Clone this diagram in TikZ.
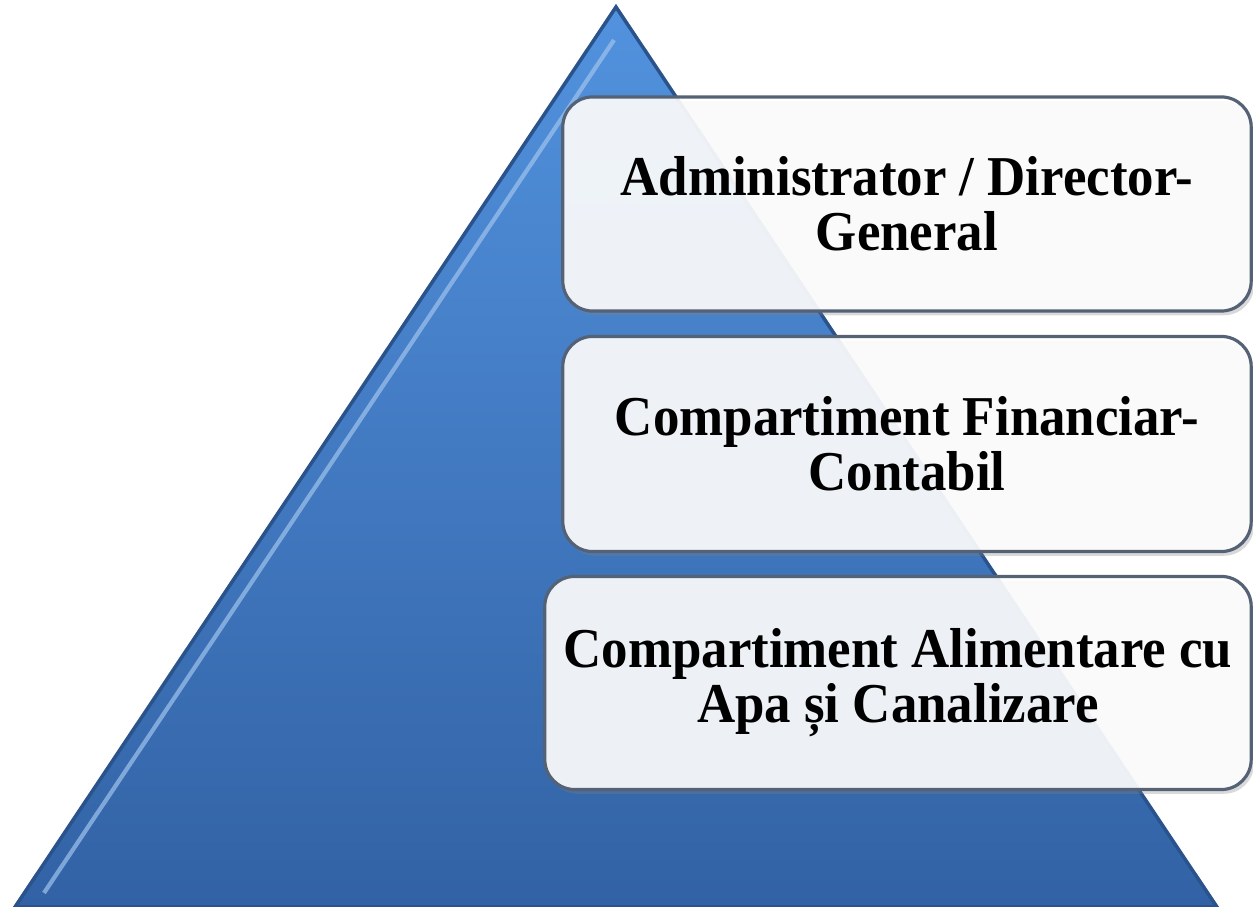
\documentclass[tikz,border=0pt]{standalone}
\usepackage{fontspec}
\setmainfont[FakeStretch=0.94]{Liberation Serif}
\usetikzlibrary{positioning,shadows}
\definecolor{trilight}{RGB}{82,146,222}
\definecolor{tridark}{RGB}{50,98,165}
\definecolor{boxline}{RGB}{85,98,118}

\begin{document}
\begin{tikzpicture}[x=0.01cm,y=-0.01cm,
    level/.style={draw=boxline,line width=0.9pt,rounded corners=0.3cm,
      fill=white,fill opacity=0.9,text opacity=1,
      drop shadow={shadow xshift=0.8pt,shadow yshift=-1.2pt,opacity=0.3},
      align=center,inner sep=0pt,
      font=\fontsize{16}{15.6}\selectfont\bfseries}]
    \useasboundingbox (0,0) rectangle (1253,907);

    \coordinate (apex) at (616,7);
    \coordinate (baseleft) at (15,907);
    \coordinate (baseright) at (1217,907);
    \shade[top color=trilight,bottom color=tridark,draw=tridark!85!black,line width=1pt]
      (apex) -- (baseleft) -- (baseright) -- cycle;
    \draw[trilight!55!white,line width=1.2pt,opacity=0.7] (614,40) -- (44,893);

    \node[level,minimum width=6.88cm,minimum height=2.14cm] (admin) at (907,204)
      {Administrator / Director-\\General};
    \node[level,minimum width=6.88cm,minimum height=2.15cm] (finance) at (907,444)
      {Compartiment Financiar-\\Contabil};
    \node[level,minimum width=7.06cm,minimum height=2.13cm] (water) at (898,683)
      {Compartiment Alimentare cu\\Apa și Canalizare};
\end{tikzpicture}
\end{document}
